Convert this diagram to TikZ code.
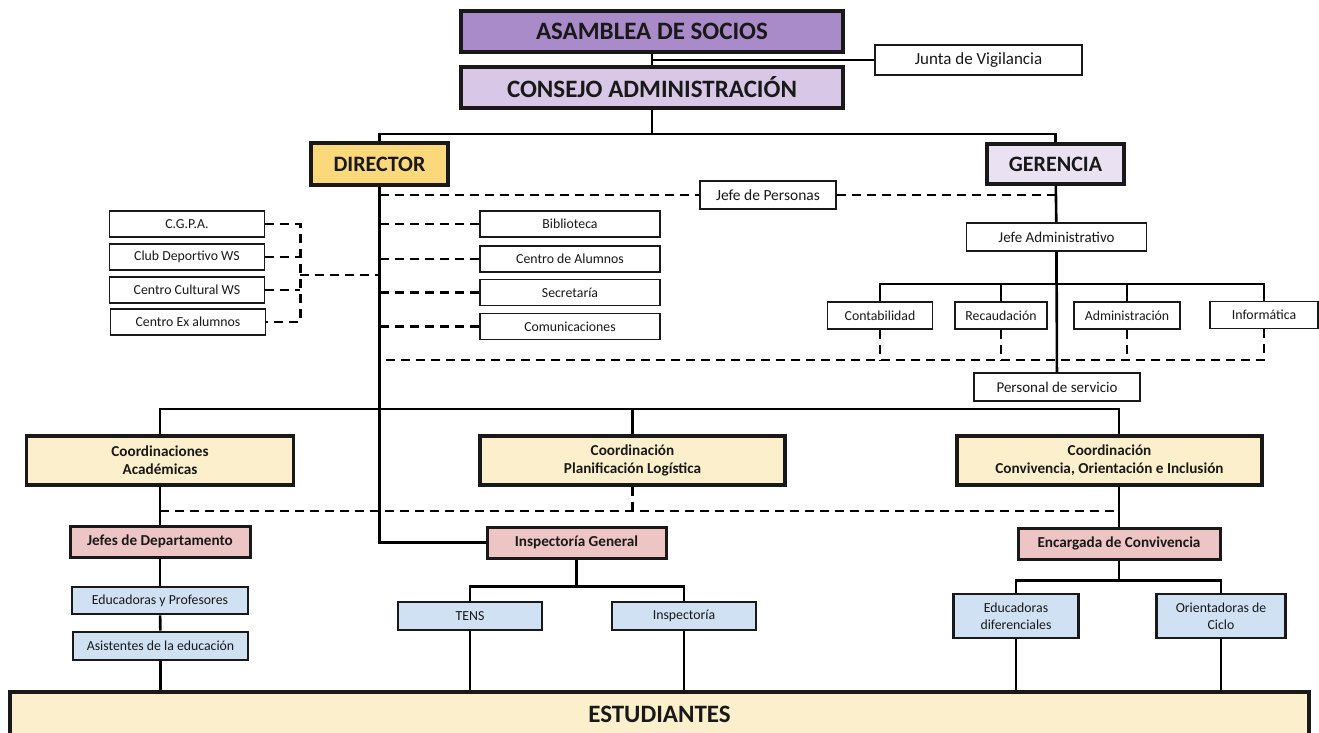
\documentclass[tikz,border=0pt]{standalone}
\usepackage{fontspec}
\setmainfont{Carlito}
\definecolor{asam}{RGB}{170,139,201}
\definecolor{cons}{RGB}{216,199,230}
\definecolor{geren}{RGB}{234,226,242}
\definecolor{direc}{RGB}{251,216,122}
\definecolor{crema}{RGB}{252,240,204}
\definecolor{rosa}{RGB}{238,197,197}
\definecolor{celeste}{RGB}{207,225,242}
\tikzset{
  box/.style={draw=black!90, rectangle, inner sep=0pt, align=center, text=black!90},
  wh/.style 2 args={minimum width=#1pt, minimum height=#2pt},
  big/.style={box, line width=3.5pt, font=\bfseries\fontsize{25}{28}\selectfont},
  head/.style={box, line width=3.5pt, font=\bfseries\fontsize{22}{24}\selectfont},
  coord/.style={box, line width=3.5pt, fill=crema, font=\bfseries\fontsize{15.2}{18}\selectfont},
  lead/.style={box, line width=3pt, fill=rosa, font=\bfseries\fontsize{15.2}{18}\selectfont},
  staff/.style={box, line width=2.8pt, fill=celeste, font=\fontsize{13.8}{16.7}\selectfont},
  plain/.style={box, line width=1.8pt, fill=white, font=\fontsize{13.8}{16}\selectfont},
  dashline/.style={dash pattern=on 9pt off 6pt, line width=2.2pt}
}
\begin{document}
\begin{tikzpicture}[x=1pt, y=-1pt, line width=2.6pt]
  \useasboundingbox (0,0) rectangle (1319,732);
  \clip (0,0) rectangle (1319,732);
  \fill[white] (0,0) rectangle (1319,732);

  \node (asamblea) [big, fill=asam, wh={382}{41}] at (652,31.5) {ASAMBLEA DE SOCIOS};
  \node (consejo) [big, fill=cons, wh={382}{41}] at (652,87.5) {CONSEJO ADMINISTRACIÓN};
  \node (junta) [plain, wh={207}{30}, font=\fontsize{17}{20}\selectfont] at (978.5,60) {Junta de Vigilancia};
  \node (director) [head, fill=direc, wh={137}{42}] at (379.5,164) {DIRECTOR};
  \node (gerencia) [head, fill=geren, wh={137}{40}] at (1055.5,164) {GERENCIA};
  \node (jefepers) [plain, wh={136}{28}, font=\fontsize{15.5}{18}\selectfont] at (768,195) {Jefe de Personas};
  \node (jefeadm) [plain, wh={180}{28}, font=\fontsize{15}{18}\selectfont] at (1056.5,237) {Jefe Administrativo};
  \node (conta) [plain, wh={105}{27}] at (880,315.5) {Contabilidad};
  \node (recaud) [plain, wh={92}{27}] at (1001,315.5) {Recaudación};
  \node (admin) [plain, wh={106}{27}] at (1127,315.5) {Administración};
  \node (info) [plain, wh={108}{27}] at (1264,315) {Informática};
  \node (personal) [plain, wh={166}{28}, font=\fontsize{15}{18}\selectfont] at (1057,387) {Personal de servicio};

  \node (cgpa) [plain, wh={155}{26}] at (187,224) {C.G.P.A.};
  \node (club) [plain, wh={155}{26}] at (187,257) {Club Deportivo WS};
  \node (cultural) [plain, wh={155}{26}] at (187,290) {Centro Cultural WS};
  \node (exalum) [plain, wh={155}{26}] at (188,322) {Centro Ex alumnos};
  \node (biblio) [plain, wh={180}{26}] at (570,224) {Biblioteca};
  \node (alumnos) [plain, wh={180}{26}] at (570,259) {Centro de Alumnos};
  \node (secre) [plain, wh={180}{26}] at (570,292.5) {Secretaría};
  \node (comun) [plain, wh={180}{26}] at (570,326.5) {Comunicaciones};

  \node (acad) [coord, wh={267}{49}] at (160,460.5) {Coordinaciones\\Académicas};
  \node (plan) [coord, wh={305}{49}] at (632.5,460.5) {Coordinación\\Planificación Logística};
  \node (conv) [coord, wh={305}{49}] at (1109.5,460.5) {Coordinación\\Convivencia, Orientación e Inclusión};
  \node (jefes) [lead, wh={180}{31}] at (160,541.5) {Jefes de Departamento};
  \node (insp) [lead, wh={179}{31}] at (576.5,542.5) {Inspectoría General};
  \node (enc) [lead, wh={202}{31}] at (1119,543.5) {Encargada de Convivencia};
  \node (prof) [staff, wh={176}{27}] at (160,600.5) {Educadoras y Profesores};
  \node (asist) [staff, wh={175}{28}] at (160.5,646) {Asistentes de la educación};
  \node (tens) [staff, wh={144}{28}] at (470,616) {TENS};
  \node (inspc) [staff, wh={144}{28}] at (684,616) {Inspectoría};
  \node (edu) [staff, wh={125}{44}] at (1016,616) {Educadoras\\diferenciales};
  \node (ori) [staff, wh={129}{44}] at (1221,616) {Orientadoras de\\Ciclo};
  \node (estud) [big, fill=crema, wh={1299}{44}] at (659.5,714) {ESTUDIANTES};

  \draw (asamblea) -- (consejo);
  \draw (asamblea.south |- junta.west) -- (junta.west);
  \coordinate (cbar) at (652,134);
  \draw (consejo.south) -- (cbar);
  \draw (director.north) |- (cbar) -| (gerencia.north);
  \draw[dashline] (director.south |- jefepers.west) -- (jefepers.west);
  \draw[dashline] (jefepers.east) -- (gerencia.south |- jefepers.east);
  \draw (gerencia) -- (jefeadm);
  \draw (jefeadm) -- (personal);
  \foreach \n in {conta,recaud,admin,info}
    \draw (jefeadm.south) -- ++(0,32) -| (\n.north);
  \coordinate (dl) at (384,360);
  \foreach \n in {conta,recaud,admin}
    \draw[dashline] (\n.south) -- (\n.south |- dl);
  \draw[dashline] (info.south) |- (dl);

  \draw[dashline] (cgpa.east) -- ++(35,0) |- (exalum.east);
  \foreach \n in {club,cultural}
    \draw[dashline] (\n.east) -- ++(35,0);
  \coordinate (lb) at (299.5,275);
  \draw[dashline] (lb) -- (lb -| director.south);
  \foreach \n in {biblio,alumnos,secre,comun}
    \draw[dashline] (\n.west) -- (\n.west -| director.south);

  \draw (director.south) |- (insp.west);
  \coordinate (bar) at (0,409);
  \draw (acad.north) |- (bar -| enc.north) -- (conv.north -| enc.north);
  \draw (plan.north) -- (plan.north |- bar);
  \coordinate (dbar) at (0,511);
  \draw[dashline] (acad.south |- dbar) -- (enc.north |- dbar);
  \draw[dashline] (plan.south) -- (plan.south |- dbar);

  \draw (acad.south) -- (jefes.north);
  \draw (jefes) -- (prof);
  \draw (prof) -- (asist);
  \draw (asist.south) -- (asist.south |- estud.north);
  \draw (insp.south) -- ++(0,27) -| (tens.north);
  \draw (insp.south) -- ++(0,27) -| (inspc.north);
  \draw (tens.south) -- (tens.south |- estud.north);
  \draw (inspc.south) -- (inspc.south |- estud.north);
  \draw (conv.south -| enc.north) -- (enc.north);
  \draw (enc.south) -- ++(0,20) -| (edu.north);
  \draw (enc.south) -- ++(0,20) -| (ori.north);
  \draw (edu.south) -- (edu.south |- estud.north);
  \draw (ori.south) -- (ori.south |- estud.north);
\end{tikzpicture}
\end{document}
